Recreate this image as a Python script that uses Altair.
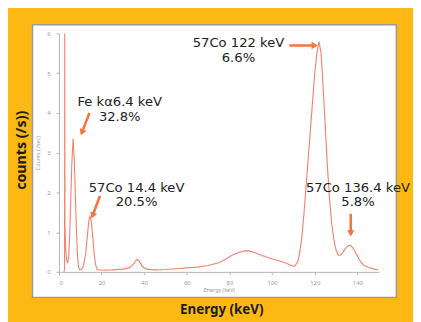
import altair as alt
import pandas as pd

# Spectrum
energy = [2.3, 2.6, 2.7, 2.8, 3.2, 3.6, 4.0, 4.5, 5.0, 5.5, 6.0, 6.6, 7.2, 7.7, 8.2, 8.7,
          9.2, 9.8, 10.5, 11.5, 12.5, 13.3, 14.0, 14.6, 15.2, 15.9, 16.6, 17.3, 18.0, 20,
          25, 30, 33, 34.5, 36, 36.8, 37.8, 39, 41, 45, 50, 55, 60, 65, 70, 75, 78, 81, 84,
          87, 89, 92, 95, 98, 101, 104, 107, 109, 110.5, 112, 113, 114, 115, 116, 117, 118,
          119, 120, 121, 122, 123, 124, 125, 126, 127, 128, 129, 130, 131, 132, 133, 134,
          135, 136, 137, 138, 139, 140, 141, 142, 143, 144, 146, 148, 149.5]
counts = [0.0, 0.05, 6.0, 1.2, 0.5, 0.3, 0.22, 0.35, 0.9, 1.8, 2.7, 3.36, 2.8, 1.9, 1.0, 0.4,
          0.12, 0.05, 0.06, 0.15, 0.45, 0.9, 1.3, 1.41, 1.25, 0.85, 0.4, 0.15, 0.06, 0.04,
          0.05, 0.07, 0.1, 0.17, 0.28, 0.31, 0.26, 0.14, 0.07, 0.05, 0.06, 0.08, 0.1, 0.12, 0.16, 0.23, 0.31, 0.41, 0.48,
          0.53, 0.53, 0.48, 0.42, 0.36, 0.31, 0.27, 0.21, 0.16, 0.14, 0.25, 0.5, 0.9, 1.5, 2.2, 2.9, 3.6,
          4.3, 5.0, 5.5, 5.8, 5.5, 4.6, 3.6, 2.6, 1.8, 1.2, 0.8, 0.55, 0.42, 0.42, 0.48, 0.56,
          0.63, 0.67, 0.66, 0.6, 0.5, 0.4, 0.3, 0.22, 0.17, 0.14, 0.1, 0.07, 0.05]

# Annotation labels, two lines each (anchored in data coordinates)
label_line1 = ["Fe kα6.4 keV", "57Co 14.4 keV", "57Co 122 keV", "57Co 136.4 keV"]
label_line2 = ["32.8%", "20.5%", "6.6%", "5.8%"]
label_energy = [28.5, 36.4, 84.2, 140.3]
label_counts = [4.28, 2.12, 5.75, 2.12]

# Arrows: shaft start / end, head position and direction
arrow_e1 = [14.3, 19.2, 108.1, 136.9]
arrow_c1 = [4.00, 1.91, 5.70, 1.46]
arrow_e2 = [11.04, 16.0, 119.2, 136.9]
arrow_c2 = [3.55, 1.45, 5.70, 1.00]
head_e = [10.77, 15.78, 120.0, 136.9]
head_c = [3.51, 1.415, 5.70, 0.968]
head_angle = [203.6, 201.4, 90, 180]

x_ticks = [0, 20, 40, 60, 80, 100, 120, 140]
y_ticks = [0, 1, 2, 3, 4, 5, 6]

spec_df = pd.DataFrame({"energy": energy, "counts": counts})
lab_df = pd.DataFrame({"energy": label_energy, "counts": label_counts,
                       "label": [[a, b] for a, b in zip(label_line1, label_line2)]})
arr_df = pd.DataFrame({"energy": arrow_e1, "counts": arrow_c1, "energy2": arrow_e2, "counts2": arrow_c2})
head_df = pd.DataFrame({"energy": head_e, "counts": head_c, "ang": head_angle})

x_scale = alt.Scale(domain=[0, 150], nice=False, zero=False)
y_scale = alt.Scale(domain=[0, 6], nice=False)
axis_style = dict(zindex=2, grid=False, domainColor="#b5b5b5", tickColor="#b5b5b5", tickSize=3,
                  labelColor="#999999", labelFontSize=6, labelFont="Noto Sans",
                  titleColor="#999999", titleFontSize=5.5, titleFontWeight="normal",
                  titleFont="Noto Sans")
x_axis = alt.Axis(values=x_ticks, title="Energy (keV)", labelPadding=5, titlePadding=2, **axis_style)
y_axis = alt.Axis(values=y_ticks, title="Counts ( /sec)", labelPadding=6, titlePadding=6, **axis_style)

X = alt.X("energy:Q", scale=x_scale, axis=x_axis)
Y = alt.Y("counts:Q", scale=y_scale, axis=y_axis)

ARROW = "#F5763C"

panel = alt.Chart(alt.Data(values=[{}])).mark_rect(
    fill="white", stroke="#9a9a9a", strokeWidth=1.5
).encode(x=alt.value(-27), x2=alt.value(344), y=alt.value(-9), y2=alt.value(269))

line = alt.Chart(spec_df).mark_line(
    color="#EE5B40", strokeWidth=1.15, opacity=0.75
).encode(x=X, y=Y)

shafts = alt.Chart(arr_df).mark_rule(color=ARROW, strokeWidth=2.6).encode(
    x=X, y=Y, x2="energy2:Q", y2="counts2:Q")

heads = alt.Chart(head_df).mark_point(
    shape="triangle-up", filled=True, color=ARROW, opacity=1, size=55
).encode(x=X, y=Y, angle=alt.Angle("ang:Q", scale=None))

labels = alt.Chart(lab_df).mark_text(
    font="DejaVu Sans", fontSize=13.4, color="#222222", align="center",
    baseline="middle", lineHeight=15
).encode(x=X, y=Y, text="label")

outer_y = alt.Chart(alt.Data(values=[{}])).mark_text(
    text="counts (/s))", font="Noto Sans", fontSize=14.5, fontWeight="bold",
    color="#1a1a1a", angle=270, align="center", baseline="middle"
).encode(x=alt.value(-38), y=alt.value(119))

outer_x = alt.Chart(alt.Data(values=[{}])).mark_text(
    text="Energy (keV)", font="Noto Sans", fontSize=13.6, fontWeight="bold",
    color="#1a1a1a", align="center", baseline="middle"
).encode(x=alt.value(166), y=alt.value(282))

chart = alt.layer(panel, line, shafts, heads, labels, outer_y, outer_x).properties(
    width=326, height=243,
    autosize=alt.AutoSizeParams(type="none"),
    padding={"left": 52, "top": 23, "right": 35, "bottom": 48},
).configure(background="#FDB813").configure_view(stroke=None)

chart.save("out.html", embed_options={"renderer": "svg", "actions": False})
